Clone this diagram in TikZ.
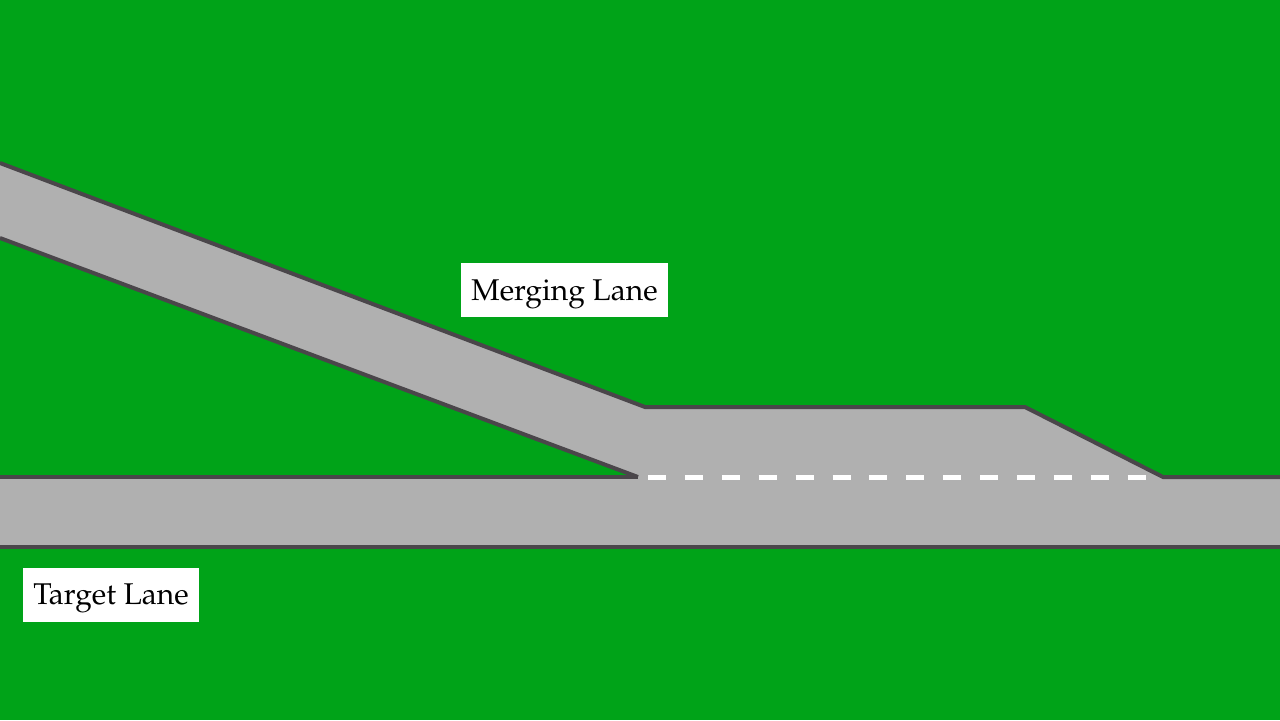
\documentclass[tikz,border=0pt]{standalone}
\usepackage[T1]{fontenc}
\usepackage{mathpazo}
\usepackage{tikz}

\definecolor{grass}{RGB}{0,163,24}
\definecolor{asphalt}{RGB}{176,176,176}
\definecolor{kerb}{RGB}{74,70,74}

\begin{document}
\begin{tikzpicture}[x=0.5pt,y=-0.5pt,
    edge/.style={draw=kerb,line width=2pt},
    lanebox/.style={fill=white,inner xsep=5pt,minimum height=27pt,text height=12.5pt,text depth=2.3pt,font=\fontsize{15}{18}\selectfont}]
\fill[grass] (0,0) rectangle (1280,720);
\useasboundingbox (0,0) rectangle (1280,720);
% road surfaces
\fill[asphalt] (0,163) -- (645,407) -- (1025,407) -- (1163,477) -- (638,477) -- (0,238) -- cycle;
\fill[asphalt] (0,477) rectangle (1280,547);
% kerbs
\draw[edge] (0,163) -- (645,407) -- (1025,407) -- (1163,477) -- (1280,477);
\draw[edge] (0,238) -- (638,477);
\draw[edge] (0,477) -- (638,477);
\draw[edge] (0,547) -- (1280,547);
% lane marking
\draw[white,line width=2.5pt,dash pattern=on 9pt off 9.45pt] (648,477) -- (1148,477);
\node[lanebox] (merging) at (564.5,290) {Merging Lane};
\node[lanebox] (target) at (111,594.5) {Target Lane};
\end{tikzpicture}
\end{document}
